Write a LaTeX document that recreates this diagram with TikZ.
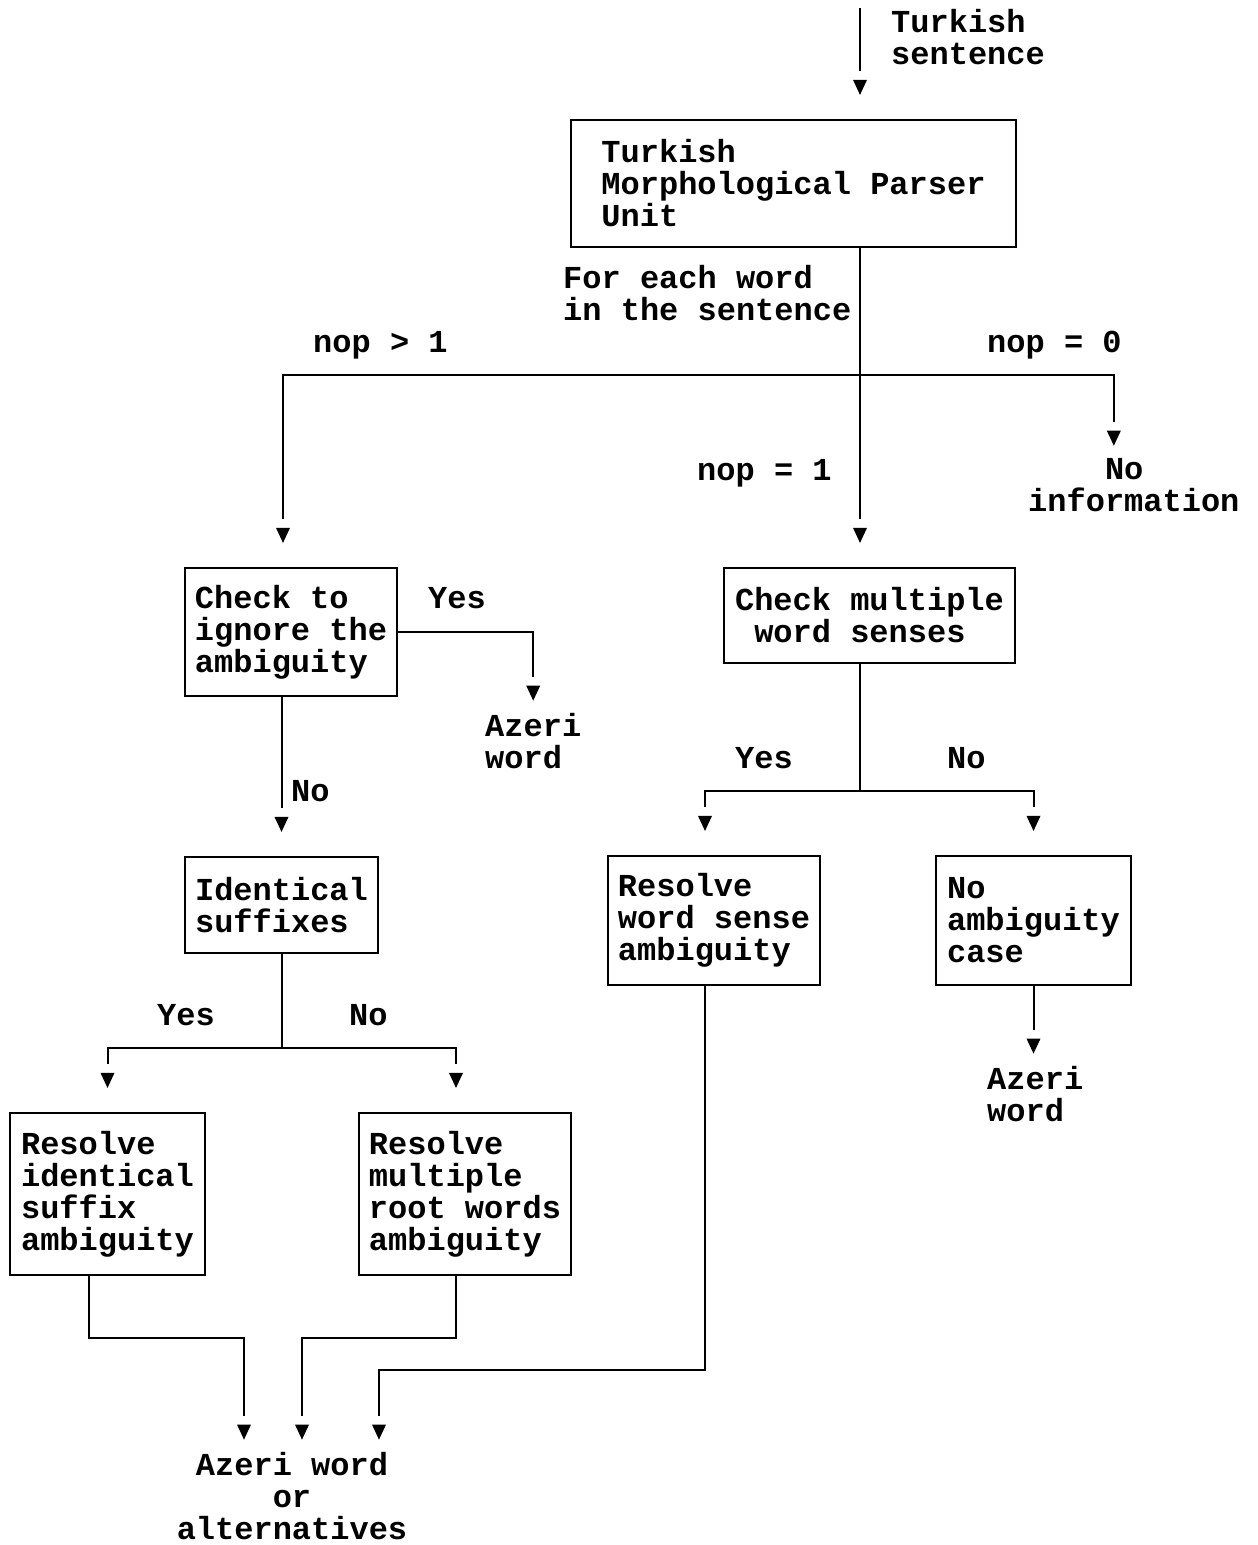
\documentclass[tikz,border=0pt]{standalone}
\usepackage{fontspec}
\setmainfont{Liberation Mono}
\usetikzlibrary{calc,decorations.markings}
\tikzset{
  txt/.style={font=\fontsize{32}{32}\selectfont\bfseries, inner sep=0pt, align=left},
  box/.style={draw, line width=2.2pt, txt, inner sep=0pt},
  ln/.style={line width=2pt},
  tipto/.style={ln, shorten >=#1+24pt,
    postaction={decorate, decoration={markings, mark=at position -#1 with
      {\fill (0pt,0pt) -- (-15pt,7pt) -- (-15pt,-7pt) -- cycle;}}}},
  arr/.style={tipto=24pt},
  arrl/.style={tipto=12pt},
}
\begin{document}
\begin{tikzpicture}[x=1pt,y=-1pt]
\useasboundingbox (0,0) rectangle (1258,1545);
% boxes
\node[box, minimum width=445pt, minimum height=127pt] (parser) at (793.5,183.5) {Turkish\\Morphological Parser\\Unit};
\node[box, minimum width=212pt, minimum height=128pt] (ck) at (291,632) {Check to\\ignore the\\ambiguity};
\node[box, minimum width=291pt, minimum height=95pt] (cm) at (869.5,615.5) {Check multiple\\\ word senses};
\node[box, minimum width=193pt, minimum height=96pt] (id) at (281.5,905) {Identical\\suffixes};
\node[box, minimum width=212pt, minimum height=129pt] (ws) at (714,920.5) {Resolve\\word sense\\ambiguity};
\node[box, minimum width=195pt, minimum height=129pt] (na) at (1033.5,920.5) {No\\ambiguity\\case};
\node[box, minimum width=195pt, minimum height=162pt] (ri) at (107.5,1194) {Resolve\\identical\\suffix\\ambiguity};
\node[box, minimum width=212pt, minimum height=162pt] (rm) at (465,1194) {Resolve\\multiple\\root words\\ambiguity};
% labels (base = baseline of the last line)
\node[txt, anchor=base west] (inlbl) at (891,64) {Turkish\\sentence};
\node[txt, anchor=base west] (foreach) at (563,320) {For each word\\in the sentence};
\node[txt, anchor=base west] (nopg) at (313,352) {nop > 1};
\node[txt, anchor=base west] (nopz) at (987,352) {nop = 0};
\node[txt, anchor=base west] (nopo) at (697,480) {nop = 1};
\node[txt, anchor=base west] (noinfo) at (1028,511) {\ \ \ \ No\\information};
\node[txt, anchor=base west] (yes1) at (428,608) {Yes};
\node[txt, anchor=base west] (aw1) at (485,768) {Azeri\\word};
\node[txt, anchor=base west] (no1) at (291,801) {No};
\node[txt, anchor=base west] (yes2) at (735,768) {Yes};
\node[txt, anchor=base west] (no2) at (947,768) {No};
\node[txt, anchor=base west] (yes3) at (157,1025) {Yes};
\node[txt, anchor=base west] (no3) at (349,1025) {No};
\node[txt, anchor=base west] (aw2) at (987,1121) {Azeri\\word};
\node[txt, align=center, anchor=base] (fin) at (292,1539) {Azeri word\\or\\alternatives};
% junctions
\coordinate (in) at (860,8);
\coordinate (jtop) at (860,375);
\coordinate (j2) at (860,791);
\coordinate (j3) at (id.south |- 0,1048);
\coordinate (b1) at (244,1338);
\coordinate (b2) at (302,1338);
\coordinate (b3) at (379,1370);
% connectors
\draw[arr] (in) -- (in |- parser.north);
\draw[ln] (parser.south -| jtop) -- (jtop);
\draw[arr] (jtop) -- (jtop |- cm.north);
\draw[arr] (jtop) -| ([xshift=-8pt]ck.north);
\draw[arrl] (jtop) -| ([xshift=-20pt]noinfo.north);
\draw[arrl] (ck.east) -| (aw1.north);
\draw[arr] (id.north |- ck.south) -- (id.north);
\draw[ln] (id.south) -- (j3);
\draw[arr] (j3) -| (ri.north);
\draw[arr] (j3) -| ([xshift=-9pt]rm.north);
\draw[ln] (j2 |- cm.south) -- (j2);
\draw[arr] (j2) -| ([xshift=-9pt]ws.north);
\draw[arr] (j2) -| (na.north);
\draw[arrl] (na.south) -- (na.south |- aw2.north);
\draw[arrl] ([xshift=-18.5pt]ri.south) |- (b1) -- (b1 |- fin.north);
\draw[arrl] ([xshift=-9pt]rm.south) |- (b2) -- (b2 |- fin.north);
\draw[arrl] ([xshift=-9pt]ws.south) |- (b3) -- (b3 |- fin.north);
\end{tikzpicture}
\end{document}
